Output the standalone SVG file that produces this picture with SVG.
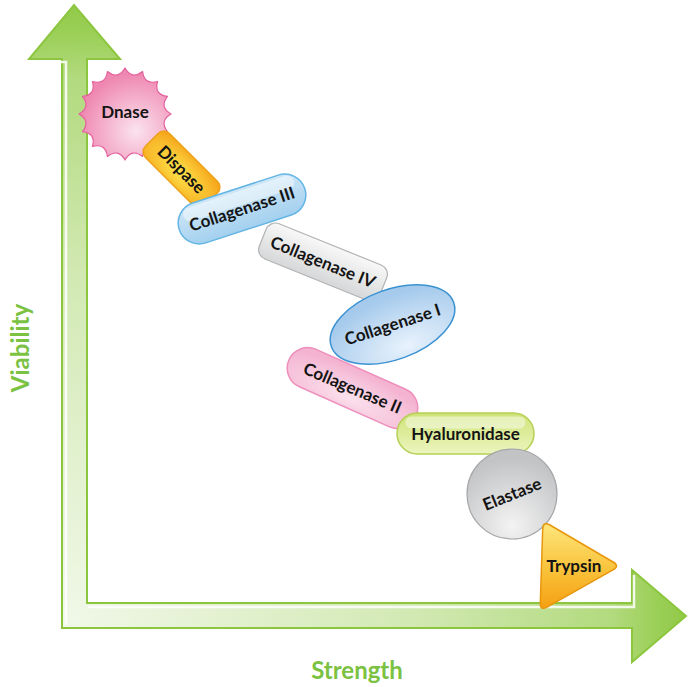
<svg xmlns="http://www.w3.org/2000/svg" width="688" height="687" viewBox="0 0 688 687">
  <defs>
    <style>
      .lbl { font-family: Lato, "Open Sans", "Liberation Sans", sans-serif; font-weight: 700; font-size: 17px; fill: #141414; text-anchor: middle; }
      .axis-lbl { font-family: Lato, "Open Sans", "Liberation Sans", sans-serif; font-weight: 700; font-size: 24px; fill: #7cc242; text-anchor: middle; }
      .gloss { fill: #ffffff; opacity: 0.45; }
    </style>
    <!-- axis fill: pale at the corner, deeper green toward both arrow tips -->
    <radialGradient id="gAxis" gradientUnits="userSpaceOnUse" cx="62" cy="628" r="640">
      <stop offset="0" stop-color="#f1f8e9"/>
      <stop offset="0.55" stop-color="#d2e9b3"/>
      <stop offset="0.86" stop-color="#b2da7e"/>
      <stop offset="0.93" stop-color="#9bcf57"/>
      <stop offset="1" stop-color="#8cc63f"/>
    </radialGradient>
    <radialGradient id="gDnase" cx="0.62" cy="0.68" r="0.62">
      <stop offset="0" stop-color="#fbe3ee"/>
      <stop offset="1" stop-color="#ef88b1"/>
    </radialGradient>
    <radialGradient id="gDispase" cx="0.5" cy="0.6" r="0.7">
      <stop offset="0" stop-color="#fde54c"/>
      <stop offset="1" stop-color="#f6a61b"/>
    </radialGradient>
    <linearGradient id="gCol3" x1="0" y1="0" x2="0" y2="1">
      <stop offset="0" stop-color="#cfe7f7"/>
      <stop offset="1" stop-color="#a3d0ef"/>
    </linearGradient>
    <linearGradient id="gCol4" x1="0" y1="0" x2="0" y2="1">
      <stop offset="0" stop-color="#f8f8f8"/>
      <stop offset="1" stop-color="#d6d7d8"/>
    </linearGradient>
    <radialGradient id="gCol1" cx="0.55" cy="0.85" r="0.75">
      <stop offset="0" stop-color="#e8f2fc"/>
      <stop offset="1" stop-color="#a5caec"/>
    </radialGradient>
    <radialGradient id="gCol2" cx="0.5" cy="0.75" r="0.7">
      <stop offset="0" stop-color="#fbe1ed"/>
      <stop offset="1" stop-color="#f4b3d0"/>
    </radialGradient>
    <linearGradient id="gHya" x1="0" y1="0" x2="0" y2="1">
      <stop offset="0" stop-color="#cfe378"/>
      <stop offset="1" stop-color="#ecf5bf"/>
    </linearGradient>
    <radialGradient id="gEla" cx="0.5" cy="0.85" r="0.75">
      <stop offset="0" stop-color="#f3f3f3"/>
      <stop offset="1" stop-color="#c2c3c5"/>
    </radialGradient>
    <linearGradient id="gTry" x1="0" y1="0" x2="0" y2="1">
      <stop offset="0" stop-color="#fde67c"/>
      <stop offset="0.55" stop-color="#f9c23a"/>
      <stop offset="1" stop-color="#f59f12"/>
    </linearGradient>
  </defs>

  <!-- bent double-headed axis arrow -->
  <g id="axes">
    <path d="M62,628 L62,59 L29,59 L74,5 L120,59 L87,59 L87,603 L632,603 L632,570 L686,616 L632,662 L632,628 Z"
          fill="url(#gAxis)" stroke="#8cc63f" stroke-width="2" stroke-linejoin="miter"/>
    <path d="M66,625 L66,62 L34,62" fill="none" stroke="#ffffff" stroke-width="2.5" opacity="0.85"/>
    <path d="M88,607 L634,607 L634,575" fill="none" stroke="#ffffff" stroke-width="2.5" opacity="0.85"/>
    <text class="axis-lbl" transform="translate(29,348) rotate(-90)">Viability</text>
    <text class="axis-lbl" x="357" y="679">Strength</text>
  </g>

  <g id="connectors"></g>

  <!-- scalloped seal: 16 points, shallow concave valleys -->
  <g id="dnase">
    <path d="M171,114 Q159.1,120.8 167.5,131.6 Q153.9,133.3 157.53,146.53 Q144.3,142.9 142.6,156.5 Q131.8,148.1 125,160 Q118.2,148.1 107.4,156.5 Q105.7,142.9 92.47,146.53 Q96.1,133.3 82.5,131.6 Q90.9,120.8 79,114 Q90.9,107.2 82.5,96.4 Q96.1,94.7 92.47,81.47 Q105.7,85.1 107.4,71.5 Q118.2,79.9 125,68 Q131.8,79.9 142.6,71.5 Q144.3,85.1 157.53,81.47 Q153.9,94.7 167.5,96.4 Q159.1,107.2 171,114 Z"
          fill="url(#gDnase)" stroke="#e4619d" stroke-width="1.2" stroke-linejoin="round"/>
    <text class="lbl" x="125" y="118">Dnase</text>
  </g>

  <g id="dispase" transform="translate(181.5,169.5) rotate(45)">
    <rect x="-42" y="-17" width="84" height="34" rx="8" fill="url(#gDispase)" stroke="#eca11a" stroke-width="1.5"/>
    <text class="lbl" x="0" y="6">Dispase</text>
  </g>

  <g id="collagenase-iii" transform="translate(242,209) rotate(-18)">
    <rect x="-66" y="-21" width="132" height="42" rx="21" fill="url(#gCol3)" stroke="#62b5e4" stroke-width="1.5"/>
    <rect class="gloss" x="-58" y="-18" width="116" height="14" rx="7"/>
    <text class="lbl" x="0" y="6">Collagenase III</text>
  </g>

  <g id="collagenase-iv" transform="translate(323,262) rotate(22)">
    <rect x="-65" y="-19" width="130" height="38" rx="10" fill="url(#gCol4)" stroke="#b2b3b4" stroke-width="1.2"/>
    <text class="lbl" x="0" y="6">Collagenase IV</text>
  </g>

  <g id="collagenase-i" transform="translate(392.5,324.5) rotate(-20)">
    <ellipse rx="65" ry="35" fill="url(#gCol1)" stroke="#3b92d2" stroke-width="1.5"/>
    <text class="lbl" x="0" y="6" transform="rotate(2)">Collagenase I</text>
  </g>

  <g id="collagenase-ii" transform="translate(352.5,388) rotate(24)">
    <rect x="-69.5" y="-20.5" width="139" height="41" rx="20.5" fill="url(#gCol2)" stroke="#ee8fbd" stroke-width="1.5"/>
    <text class="lbl" x="0" y="6" transform="rotate(-1)">Collagenase II</text>
  </g>

  <g id="hyaluronidase" transform="translate(465.5,433.5)">
    <rect x="-68.5" y="-20.5" width="137" height="41" rx="20.5" fill="url(#gHya)" stroke="#b5d055" stroke-width="1.5"/>
    <rect class="gloss" x="-60" y="-17" width="120" height="12" rx="6"/>
    <text class="lbl" x="0" y="6">Hyaluronidase</text>
  </g>

  <g id="elastase" transform="translate(512,494)">
    <circle r="45" fill="url(#gEla)" stroke="#a5a6a8" stroke-width="1.2"/>
    <text class="lbl" x="0" y="6" transform="rotate(-22)">Elastase</text>
  </g>

  <g id="trypsin">
    <path d="M549.9,525 L613.1,562 Q620,566 613,569.9 L547,607.1 Q540,611 540.3,603 L542.7,529 Q543,521 549.9,525 Z"
          fill="url(#gTry)" stroke="#e8960c" stroke-width="1.5"/>
    <text class="lbl" x="574" y="572">Trypsin</text>
  </g>
</svg>
